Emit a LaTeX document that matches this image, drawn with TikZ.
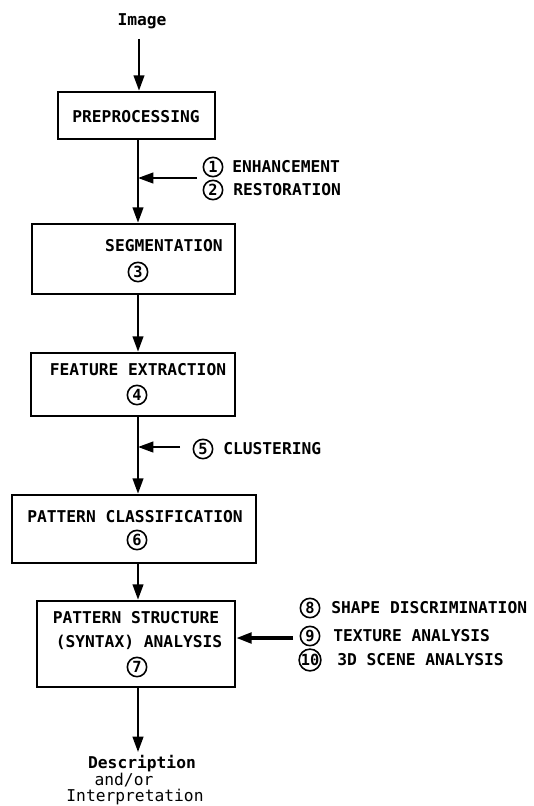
\documentclass[tikz,border=0pt]{standalone}
\usepackage{fontspec}
\newfontfamily\gothic{DejaVu Sans Mono}
\usetikzlibrary{arrows.meta}
\tikzset{
	box/.style={draw, line width=2pt, rectangle, inner sep=0pt},
	caps/.style={font=\gothic\bfseries\fontsize{12.2}{14}\selectfont, inner sep=0pt},
	txt/.style={font=\gothic\fontsize{12.2}{14}\selectfont, inner sep=0pt},
	num/.style={draw, circle, line width=1.2pt, minimum size=14.5pt, inner sep=0pt, font=\gothic\bfseries\fontsize{11.5}{12}\selectfont},
	flow/.style={line width=1.6pt, -{Triangle[length=11.5pt,width=8pt]}},
}
\begin{document}
\begin{tikzpicture}[x=0.75pt,y=-0.75pt]
	\useasboundingbox (0,0) rectangle (534,806);
	\coordinate (axis) at (138,0);
	% main chain
	\node[caps] (img) at (142,21) {Image};
	\coordinate (src) at (139,39);
	\node[box, minimum width=117.8pt, minimum height=35.3pt] (pre) at (136.5,115.5) {};
	\node[caps] (pret) at (136,117) {PREPROCESSING};
	\node[box, minimum width=152.3pt, minimum height=52.5pt] (seg) at (133.5,259) {};
	\node[caps] (segt) at (164,246) {SEGMENTATION};
	\node[num] (n3) at (138,272) {3};
	\node[box, minimum width=153pt, minimum height=47.3pt] (feat) at (133,384.5) {};
	\node[caps] (featt) at (138,370) {FEATURE EXTRACTION};
	\node[num] (n4) at (137,395) {4};
	\node[box, minimum width=183pt, minimum height=51pt] (cls) at (134,529) {};
	\node[caps] (clst) at (135,517) {PATTERN CLASSIFICATION};
	\node[num] (n6) at (137,540) {6};
	\node[box, minimum width=148.5pt, minimum height=64.5pt] (syn) at (136,644) {};
	\node[caps] (synt1) at (136,618) {PATTERN STRUCTURE};
	\node[caps] (synt2) at (139,642) {(SYNTAX) ANALYSIS};
	\node[num] (n7) at (137,667) {7};
	% side inputs
	\node[num] (n1) at (213,167) {1};
	\node[caps, anchor=west] (enh) at (232,167) {ENHANCEMENT};
	\node[num] (n2) at (213,190) {2};
	\node[caps, anchor=west] (res) at (233,190) {RESTORATION};
	\coordinate (in12) at (197,178);
	\node[num] (n5) at (203,449) {5};
	\node[caps, anchor=west] (clu) at (223,449) {CLUSTERING};
	\coordinate (in5) at (180,447);
	\node[num] (n8) at (310,608) {8};
	\node[caps, anchor=west] (shp) at (331,608) {SHAPE DISCRIMINATION};
	\node[num] (n9) at (310,636) {9};
	\node[caps, anchor=west] (tex) at (333,636) {TEXTURE ANALYSIS};
	\node[num] (n10) at (310,660) {10};
	\node[caps, anchor=west] (scn) at (337,660) {3D SCENE ANALYSIS};
	\coordinate (in810) at (293,638);
	% output
	\coordinate (out) at (138,752);
	\node[caps] (desc) at (142,764) {Description};
	\node[txt] (andor) at (124,780) {and/or};
	\node[txt] (interp) at (135,797) {Interpretation};
	% arrows
	\draw[flow] (src) -- (src |- pre.north);
	\draw[flow] (pre.south -| axis) -- (seg.north -| axis);
	\draw[flow] (in12) -- (in12 -| axis);
	\draw[flow] (seg.south -| axis) -- (feat.north -| axis);
	\draw[flow] (feat.south -| axis) -- (cls.north -| axis);
	\draw[flow] (in5) -- (in5 -| axis);
	\draw[flow] (cls.south -| axis) -- (syn.north -| axis);
	\draw[flow, line width=2.4pt] (in810) -- (in810 -| syn.east);
	\draw[flow] (syn.south -| axis) -- (out);
\end{tikzpicture}
\end{document}
